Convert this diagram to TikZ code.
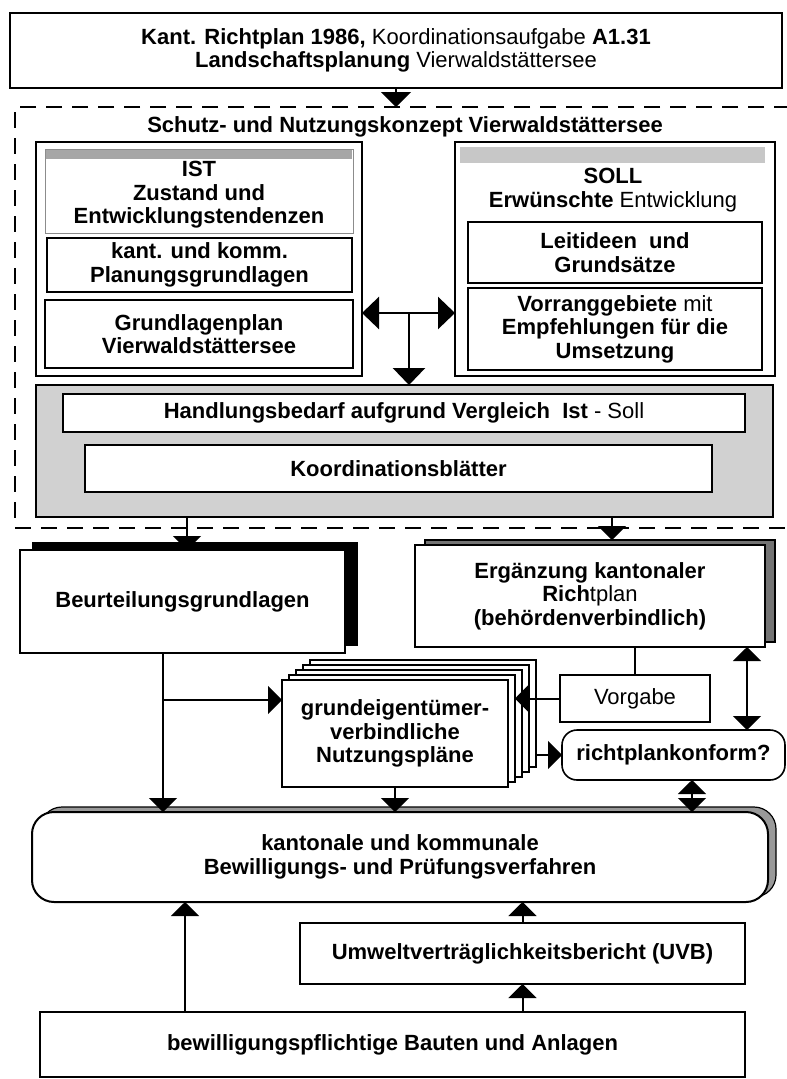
\documentclass[tikz,border=0pt]{standalone}
\usepackage{fontspec}
\setmainfont{Liberation Sans}
\usetikzlibrary{arrows.meta,calc}
\begin{document}
\begin{tikzpicture}[x=1pt,y=-1pt,
  every node/.style={inner sep=0pt,outer sep=0pt,align=center,font=\fontsize{22}{23.5}\selectfont\bfseries},
  box/.style={draw,line width=1.6pt,fill=white,rectangle},
  sbox/.style={draw,line width=1.2pt,fill=white,rectangle},
  arr/.style={line width=2pt,-{Triangle[width=28pt,length=14pt]}},
  darr/.style={line width=2pt,{Triangle[width=28pt,length=14pt]}-{Triangle[width=28pt,length=14pt]}},
  bigdarr/.style={line width=2.6pt,{Triangle[width=32pt,length=17pt]}-{Triangle[width=32pt,length=17pt]}},
  plainline/.style={line width=1.6pt},
  frame/.style={line width=2.6pt,dash pattern=on 16pt off 10pt}
  ]
\useasboundingbox (0,0) rectangle (787,1079);
\fill[white] (0,0) rectangle (787,1079);

% top box
\node[box,line width=2pt,minimum width=772pt,minimum height=75pt] (top) at (396,50.5)
  {Kant. Richtplan 1986, {\mdseries Koordinationsaufgabe} A1.31\\Landschaftsplanung {\mdseries Vierwaldstättersee}};

% dashed frame
\draw[frame] (790,107) -- (15,107) -- (15,528) -- (790,528);
\coordinate (dtop) at (396,107);
\node (title) at (405,127) {Schutz- und Nutzungskonzept Vierwaldstättersee};

% IST block
\node[box,line width=2pt,minimum width=326pt,minimum height=234pt] (ist) at (199,259) {};
\node[draw=black!45,line width=0.6pt,fill=white,minimum width=308pt,minimum height=84pt] (isthead) at (199,191) {};
\fill[black!35] (46,150) rectangle (352,159);
\node (isttxt) at (199,195) {IST\\Zustand und\\Entwicklungstendenzen};
\node[box,minimum width=305pt,minimum height=54pt] (kant) at (199.5,265) {kant. und komm.\\Planungsgrundlagen};
\node[box,minimum width=308pt,minimum height=68pt] (grund) at (199,334) {Grundlagenplan\\Vierwaldstättersee};

% SOLL block
\node[box,line width=2pt,minimum width=320pt,minimum height=234pt] (soll) at (615,259) {};
\fill[black!22] (460,147) rectangle (765,163);
\node (solltxt) at (613,190) {SOLL\\Erwünschte {\mdseries Entwicklung}};
\node[box,minimum width=294pt,minimum height=61pt] (leit) at (615,252.5) {Leitideen\ \ und\\Grundsätze};
\node[box,minimum width=294pt,minimum height=82pt] (vorr) at (615,329) {Vorranggebiete {\mdseries mit}\\Empfehlungen für die\\Umsetzung};

% IST <-> SOLL and down
\coordinate (mid) at (409,313);
\draw[bigdarr] (ist.east |- mid) -- (soll.west |- mid);

% Handlungsbedarf block
\node[draw,line width=1.4pt,fill=black!18,minimum width=737pt,minimum height=132pt] (handl) at (404.5,451) {};
\draw[line width=1.6pt,fill=white] (63,394) rectangle (745,432);
\node (handltxt) at (404,413) {Handlungsbedarf aufgrund Vergleich\ \ Ist {\mdseries - Soll}};
\node[box,line width=2pt,minimum width=627pt,minimum height=47pt] (koord) at (398.5,468.5) {Koordinationsblätter};
\draw[line width=2.6pt,-{Triangle[width=32pt,length=17pt]}] (mid) -- (mid |- handl.north);

% Beurteilungsgrundlagen with black shadow
\node[draw,fill=black,minimum width=325pt,minimum height=103pt] (beurtsh) at (194.5,593.5) {};
\node[box,minimum width=325pt,minimum height=103pt] (beurt) at (182.5,601.5) {Beurteilungsgrundlagen};

% Ergaenzung with grey shadow
\node[draw,line width=1.2pt,fill=black!55,minimum width=350pt,minimum height=102pt] (ergsh) at (600,591) {};
\node[box,minimum width=350pt,minimum height=102pt] (erg) at (590,596) {Ergänzung kantonaler\\{\bfseries Rich}{\mdseries tplan}\\(behördenverbindlich)};

% arrows from concept
\coordinate (bx1) at (187,0);
\coordinate (bx2) at (612,0);
\draw[arr] (handl.south -| bx1) -- (beurt.north -| bx1);
\draw[arr] (handl.south -| bx2) -- (ergsh.north -| bx2);

% Nutzungsplaene stack
\foreach \k in {4,3,2,1}
  \node[sbox,minimum width=226pt,minimum height=107pt] (nutz\k) at ({395+7*\k},{733.5-5*\k}) {};
\node[box,minimum width=226pt,minimum height=107pt] (nutz) at (395,733.5) {grundeigentümer-\\verbindliche\\Nutzungspläne};

% Vorgabe
\node[box,font=\fontsize{22}{23.5}\selectfont,minimum width=150pt,minimum height=47pt] (vorg) at (635,698.5) {Vorgabe};
% richtplankonform
\node[box,rounded corners=15pt,minimum width=223pt,minimum height=50pt] (richt) at (673.5,755) {richtplankonform?};

% Bewilligungs box with shadow
\node[draw,line width=1.2pt,fill=black!40,rounded corners=22pt,minimum width=736pt,minimum height=90pt] (bewsh) at (408,852) {};
\node[box,line width=2pt,rounded corners=22pt,minimum width=736pt,minimum height=90pt] (bew) at (400,857) {kantonale und kommunale\\Bewilligungs- und Prüfungsverfahren};

% UVB and bottom
\node[box,line width=1.4pt,minimum width=445pt,minimum height=61pt] (uvb) at (522.5,953.5) {Umweltverträglichkeitsbericht (UVB)};
\node[box,line width=1.4pt,minimum width=705pt,minimum height=65pt] (bot) at (392.5,1044.5) {bewilligungspflichtige Bauten und Anlagen};

% connectors
\draw[line width=2.2pt,-{Triangle[width=30pt,length=15pt]}] (top.south) -- (dtop);
\coordinate (lx) at (163,0);
\coordinate (branch) at (163,700);
\draw[arr] (beurt.south -| lx) -- (bew.north -| lx);
\draw[arr] (branch) -- (branch -| nutz.west);
\draw[plainline] (erg.south -| vorg.north) -- (vorg.north);
\coordinate (vtip) at (515,698.5);
\draw[arr] (vorg.west) -- (vtip);
\draw[arr] (nutz4.east |- richt.west) -- (richt.west);
\coordinate (rx) at (747,0);
\draw[darr] (erg.south -| rx) -- (richt.north -| rx);
\coordinate (rx2) at (692,0);
\draw[darr] (richt.south -| rx2) -- (bew.north -| rx2);
\draw[arr] (nutz.south) -- (nutz.south |- bew.north);
\coordinate (ux) at (185,0);
\draw[arr] (bot.north -| ux) -- (bew.south -| ux);
\draw[arr] (bot.north -| uvb.south) -- (uvb.south);
\draw[arr] (uvb.north) -- (uvb.north |- bew.south);
\end{tikzpicture}
\end{document}
